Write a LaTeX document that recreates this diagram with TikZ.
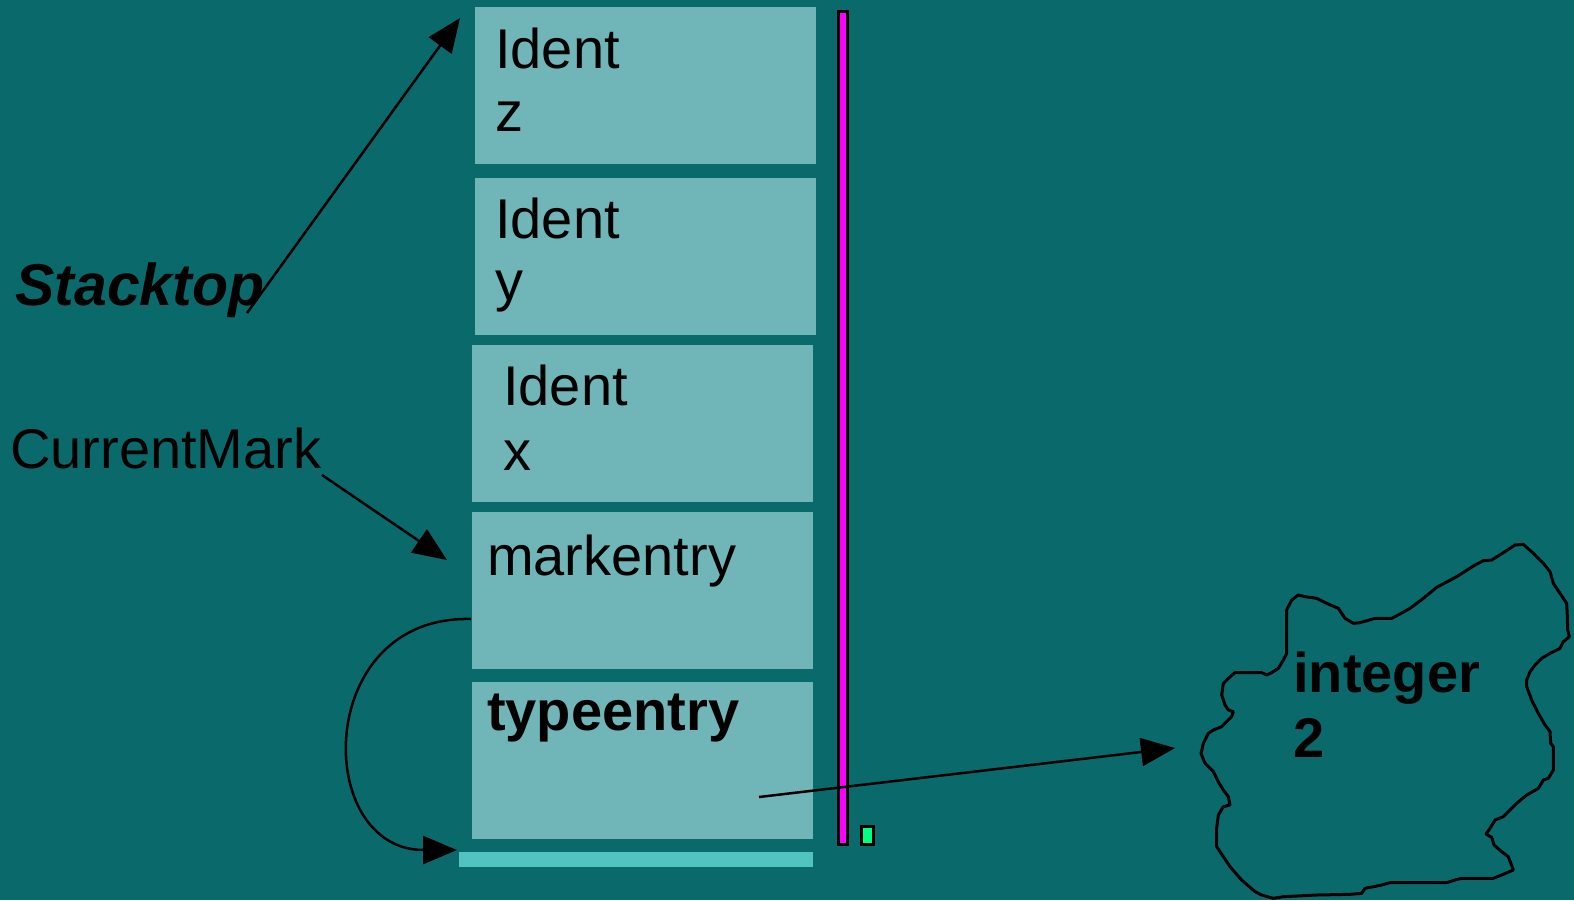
\documentclass[tikz,border=0pt]{standalone}
\usepackage{fontspec}
\setmainfont{Liberation Sans}
\usetikzlibrary{arrows.meta}
\definecolor{bgteal}{HTML}{0A6A6B}
\definecolor{cellfill}{HTML}{70B6B8}
\definecolor{barfill}{HTML}{50C4C0}
\definecolor{markgreen}{HTML}{00FF80}
\definecolor{barpink}{HTML}{FF00FF}

\begin{document}
\begin{tikzpicture}[
        x=1pt, y=-1pt,
        >={Triangle[length=34pt,width=28pt]},
        cell/.style={fill=cellfill, minimum width=341pt, minimum height=157pt, anchor=north west, inner sep=0pt},
        lbl/.style={anchor=base west, inner sep=0pt, font=\fontsize{56}{66}\selectfont},
        line/.style={->, line width=2.5pt},
    ]
        % --- background and frame ---
        \fill[bgteal] (0,0) rectangle (1574,900);
        \useasboundingbox (0,0) rectangle (1574,900);
        
        % --- stack cells ---
        \node[cell] (identz) at (475,7) {};
        \node[cell] (identy) at (475,178) {};
        \node[cell] (identx) at (472,345) {};
        \node[cell] (mark) at (472,512) {};
        \node[cell] (type) at (472,682) {};
        \fill[barfill] (459,852) rectangle (813,867);
        
        % --- cell texts ---
        \node[lbl] (tz1) at (495,68) {Ident};
        \node[lbl] (tz2) at (495,131) {z};
        \node[lbl] (ty1) at (495,238) {Ident};
        \node[lbl] (ty2) at (495,300) {y};
        \node[lbl] (tx1) at (503,405) {Ident};
        \node[lbl] (tx2) at (503,470) {x};
        \node[lbl] (tmark) at (487,575) {markentry};
        \node[lbl, font=\fontsize{56}{66}\selectfont\bfseries] (ttype) at (487,730) {typeentry};
        
        % --- side bars ---
        \filldraw[fill=barpink, draw=black, line width=3pt] (838,11) rectangle (847,844);
        \filldraw[fill=markgreen, draw=black, line width=3pt] (861,826) rectangle (873,844);
        
        % --- pointers ---
        \node[lbl, font=\fontsize{59}{66}\selectfont\bfseries\itshape] (stacktop) at (15,305) {Stacktop};
        \node[lbl] (current) at (10,468) {CurrentMark};
        
        \coordinate (stackfoot) at (247,313);
        \coordinate (stackhead) at (460,18);
        \draw[line] (stackfoot) -- (stackhead);
        
        \coordinate (curfoot) at (322,475);
        \coordinate (curhead) at (447,560);
        \draw[line] (curfoot) -- (curhead);
        
        % mark entry loops back to the stack bottom
        \coordinate (markout) at (471,619);
        \coordinate (stackbase) at (457,850);
        \draw[line] (markout) .. controls (313,615) and (313,850) .. (stackbase);
        
        % --- the type cloud ---
        \begin{scope}[shift={(1190,530)}, scale=1/3]
        \draw[line width=3pt, line join=round]
            (290,240) -- (305,210) -- (325,195) -- (345,200) -- (380,205) -- (410,220) -- (445,235)
            -- (465,265) -- (490,280) -- (510,278) -- (555,265) -- (605,265) -- (630,252) -- (660,235)
            -- (700,205) -- (740,172) -- (800,140) -- (855,105) -- (880,92) -- (905,90) -- (940,68)
            -- (975,45) -- (1000,43) -- (1030,70) -- (1060,100) -- (1080,125) -- (1090,160) -- (1110,190)
            -- (1130,220) -- (1132,260) -- (1133,300) -- (1138,320) -- (1120,335) -- (1110,355) -- (1080,370)
            -- (1055,385) -- (1035,405) -- (1020,425) -- (1010,450) -- (1010,470) -- (1025,510) -- (1045,550)
            -- (1065,585) -- (1080,605) -- (1082,640) -- (1090,650) -- (1090,720) -- (1075,745) -- (1060,750)
            -- (1045,775) -- (1010,795) -- (980,820) -- (960,840) -- (940,860) -- (915,870) -- (900,895)
            -- (888,912) -- (905,922) -- (912,945) -- (935,965) -- (955,980) -- (970,1020) -- (935,1035)
            -- (910,1045) -- (815,1045) -- (795,1050) -- (770,1058) -- (600,1058) -- (575,1065) -- (525,1075)
            -- (515,1090) -- (480,1093) -- (380,1095) -- (280,1100) -- (250,1105) -- (215,1095) -- (195,1085)
            -- (155,1050) -- (120,1010) -- (100,980) -- (80,950) -- (80,895) -- (85,855) -- (100,830)
            -- (120,825) -- (115,800) -- (100,780) -- (85,755) -- (70,725) -- (45,700) -- (33,670)
            -- (40,640) -- (55,610) -- (70,600) -- (95,590) -- (110,575) -- (125,560) -- (130,545)
            -- (115,540) -- (105,525) -- (95,495) -- (100,460) -- (115,445) -- (135,428) -- (215,428)
            -- (230,435) -- (245,428) -- (265,415) -- (280,390) -- (290,370) -- cycle;
        \end{scope}
        \node[lbl, font=\fontsize{56}{66}\selectfont\bfseries] (tint) at (1293,692) {integer};
        \node[lbl, font=\fontsize{56}{66}\selectfont\bfseries] (tnum) at (1293,757) {2};
        
        % typeentry points to the cloud
        \coordinate (typeout) at (759,797);
        \coordinate (cloudin) at (1175,748);
        \draw[line] (typeout) -- (cloudin);
        
        \end{tikzpicture}
\end{document}
